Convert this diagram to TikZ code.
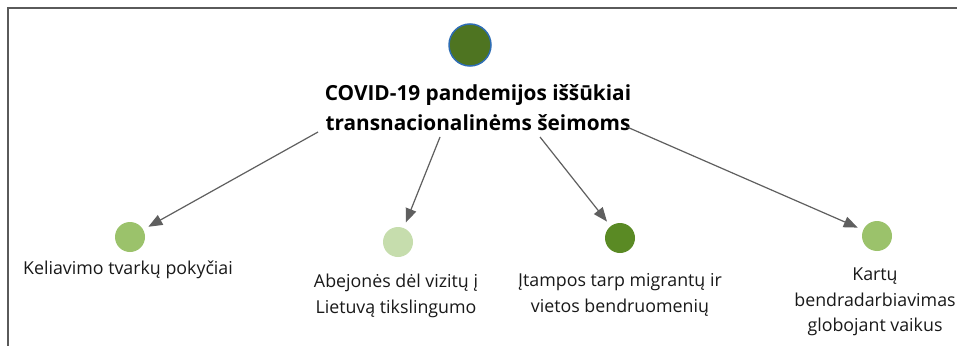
\documentclass[tikz,border=0pt]{standalone}
\usepackage{fontspec}
\setmainfont{Open Sans}
\usetikzlibrary{arrows.meta}
\definecolor{frame}{HTML}{5A5A5A}
\definecolor{arr}{HTML}{5F5F5F}
\definecolor{topc}{HTML}{4E7421}
\definecolor{topb}{HTML}{2E6DB4}
\definecolor{midg}{HTML}{9BC26B}
\definecolor{lightg}{HTML}{C6DDAD}
\definecolor{darkg}{HTML}{5A8A24}
\tikzset{
  dot/.style={circle, minimum size=30pt, inner sep=0pt, outer sep=6pt},
  lbl/.style={align=center, font=\fontsize{17.8}{25.5}\selectfont, text=black!90},
  conn/.style={draw=arr, line width=1.2pt, -{Triangle[length=14pt,width=11pt]}},
}
\begin{document}
\begin{tikzpicture}[x=1pt,y=-1pt]
\useasboundingbox (0,0) rectangle (957,345);
\fill[white] (0,0) rectangle (957,345);
\draw[frame, line width=2pt] (8,346) -- (8,8) -- (958,8);
\node[circle, minimum size=42pt, inner sep=0pt, fill=topc, draw=topb, line width=1.5pt] (top) at (470,45) {};
\node[align=center, font=\bfseries\fontsize{20.8}{30}\selectfont] (title) at (478,108) {COVID-19 pandemijos iššūkiai\\transnacionalinėms šeimoms};
\node[dot, fill=midg] (c1) at (130,237) {};
\node[dot, fill=lightg] (c2) at (398,242) {};
\node[dot, fill=darkg] (c3) at (620,238) {};
\node[dot, fill=midg] (c4) at (877,236) {};
\node[lbl] (l1) at (128,270) {Keliavimo tvarkų pokyčiai};
\node[lbl] (l2) at (396,296) {Abejonės dėl vizitų į\\Lietuvą tikslingumo};
\node[lbl] (l3) at (620,295) {Įtampos tarp migrantų ir\\vietos bendruomenių};
\node[lbl] (l4) at (875,302) {Kartų\\bendradarbiavimas\\globojant vaikus};
\coordinate (s1) at (318,132);
\coordinate (s2) at (440,137);
\coordinate (s3) at (540,137);
\coordinate (s4) at (627,127);
\draw[conn] (s1) -- (c1);
\draw[conn] (s2) -- (c2);
\draw[conn] (s3) -- (c3);
\draw[conn] (s4) -- (c4);
\end{tikzpicture}
\end{document}
